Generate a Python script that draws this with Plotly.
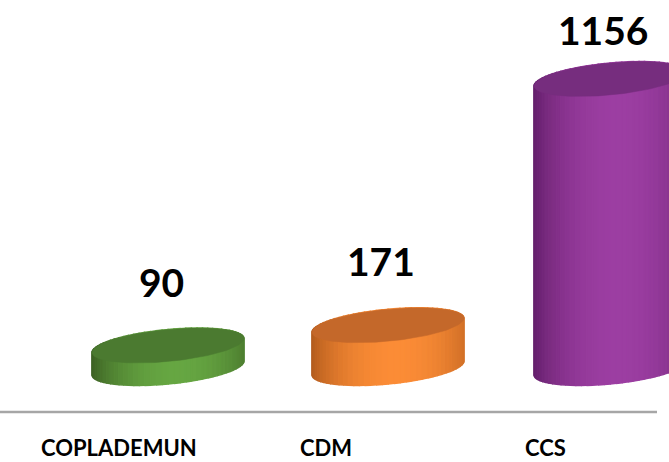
import numpy as np
import plotly.graph_objects as go

# ---- data ----
categories = ["COPLADEMUN", "CDM", "CCS"]
values = [90, 171, 1156]
value_labels = ["90", "171", "1156"]

# ---- style / layout constants (pixel-like x units, value y units) ----
W, H = 669, 462
cyl_x = [168, 388, 610]          # cylinder centres (x axis units)
cat_x = [119, 326, 545]          # category label centres
half_w = 76                       # cylinder half width
ell_b = 64                        # ellipse semi-minor (value units)
ell_tilt = 28                     # perspective tilt (value units)
y_range = [-376, 1472]
label_gap = 256
label_cap = 1352
cat_label_y = -318

side_cols = [  # (edge dark, centre light)
    ((0x3a, 0x5e, 0x22), (0x66, 0xa6, 0x42)),
    ((0xb0, 0x5a, 0x1c), (0xfb, 0x8c, 0x36)),
    ((0x62, 0x1e, 0x69), (0x9c, 0x3e, 0xa2)),
]
top_cols = ["#4b7a30", "#c4682a", "#762d7e"]

fig = go.Figure()


def mix(c1, c2, w):
    return "rgb(%d,%d,%d)" % tuple(int(round(a + (b - a) * w)) for a, b in zip(c1, c2))


for i, v in enumerate(values):
    cx = cyl_x[i]
    dark, light = side_cols[i]
    n = 40
    ts = np.linspace(np.pi, 2 * np.pi, n + 1)
    xs = cx + half_w * np.cos(ts)
    ybot = 0 + ell_b * np.sin(ts) + ell_tilt * np.cos(ts)
    ytop = v - ell_b * np.sin(ts) + ell_tilt * np.cos(ts)
    for k in range(n):
        u = (xs[k] + xs[k + 1]) / 2 - cx
        u /= half_w
        w = max(0.0, 1 - ((u - 0.12) / 1.12) ** 2) ** 0.8
        col = mix(dark, light, w)
        fig.add_trace(go.Scatter(
            x=[xs[k], xs[k + 1], xs[k + 1], xs[k], xs[k]],
            y=[ybot[k], ybot[k + 1], ytop[k + 1], ytop[k], ybot[k]],
            mode="lines", fill="toself", fillcolor=col,
            line=dict(width=1.5, color=col), hoverinfo="skip", showlegend=False))
    tt = np.linspace(0, 2 * np.pi, 121)
    fig.add_trace(go.Scatter(
        x=cx + half_w * np.cos(tt),
        y=v + ell_b * np.sin(tt) + ell_tilt * np.cos(tt),
        mode="lines", fill="toself", fillcolor=top_cols[i],
        line=dict(width=0.5, color=top_cols[i]), hoverinfo="skip", showlegend=False))
    fig.add_annotation(x=cx - 7, y=min(v + label_gap, label_cap), text="<b>%s</b>" % value_labels[i],
                       showarrow=False, font=dict(family="Lato", size=39, color="#000000"),
                       xanchor="center", yanchor="middle")
    fig.add_annotation(x=cat_x[i], y=cat_label_y, text="<b>%s</b>" % categories[i],
                       showarrow=False, font=dict(family="Lato", size=22, color="#000000"),
                       xanchor="center", yanchor="middle")

fig.add_shape(type="line", xref="paper", yref="y", x0=0, x1=657 / W, y0=-176, y1=-176,
              line=dict(color="#a6a6a6", width=2.5))

fig.update_layout(
    width=W, height=H, margin=dict(l=0, r=0, t=0, b=0),
    paper_bgcolor="white", plot_bgcolor="white", showlegend=False,
    xaxis=dict(range=[0, W], visible=False, fixedrange=True),
    yaxis=dict(range=y_range, visible=False, fixedrange=True),
)
fig.write_html("out.html", config={"displayModeBar": False})

with open("out.html", encoding="utf-8") as f:
    html = f.read()
html = html.replace("<head>", "<head><style>html,body{margin:0;padding:0;overflow:hidden;}</style>", 1)
with open("out.html", "w", encoding="utf-8") as f:
    f.write(html)
